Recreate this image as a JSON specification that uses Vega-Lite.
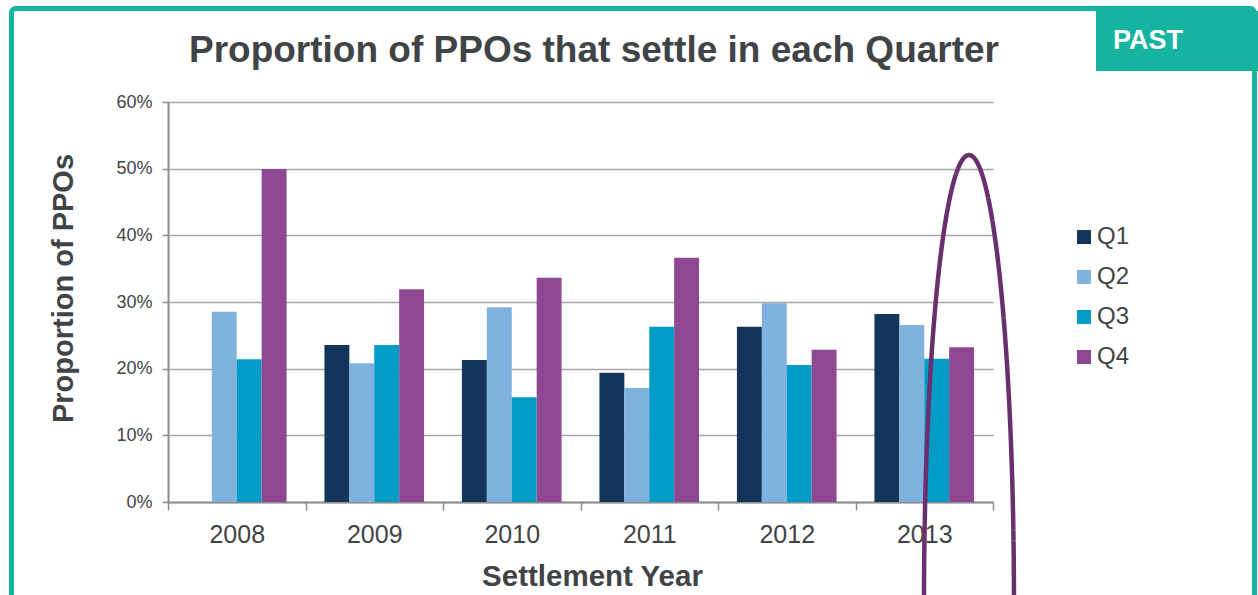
{
  "$schema": "https://vega.github.io/schema/vega-lite/v6.json",
  "autosize": {"type": "none"},
  "width": 825,
  "height": 400,
  "padding": {"left": 168, "top": 102, "right": 265, "bottom": 93},
  "background": "white",
  "config": {"view": {"stroke": null}, "font": "Liberation Sans", "legend": {"strokeWidth": 5}},
  "title": {
    "text": "Proportion of PPOs that settle in each Quarter",
    "fontSize": 37,
    "fontWeight": "bold",
    "color": "#404447",
    "anchor": "middle",
    "frame": "group",
    "dx": 13.5,
    "baseline": "alphabetic",
    "offset": -93.4
  },
  "data": {
    "values": [
      {"Year": "2008", "Quarter": "Q2", "Proportion": 0.2855},
      {"Year": "2008", "Quarter": "Q3", "Proportion": 0.214},
      {"Year": "2008", "Quarter": "Q4", "Proportion": 0.4995},
      {"Year": "2009", "Quarter": "Q1", "Proportion": 0.2355},
      {"Year": "2009", "Quarter": "Q2", "Proportion": 0.208},
      {"Year": "2009", "Quarter": "Q3", "Proportion": 0.2355},
      {"Year": "2009", "Quarter": "Q4", "Proportion": 0.319},
      {"Year": "2010", "Quarter": "Q1", "Proportion": 0.213},
      {"Year": "2010", "Quarter": "Q2", "Proportion": 0.292},
      {"Year": "2010", "Quarter": "Q3", "Proportion": 0.157},
      {"Year": "2010", "Quarter": "Q4", "Proportion": 0.3365},
      {"Year": "2011", "Quarter": "Q1", "Proportion": 0.194},
      {"Year": "2011", "Quarter": "Q2", "Proportion": 0.171},
      {"Year": "2011", "Quarter": "Q3", "Proportion": 0.263},
      {"Year": "2011", "Quarter": "Q4", "Proportion": 0.3665},
      {"Year": "2012", "Quarter": "Q1", "Proportion": 0.263},
      {"Year": "2012", "Quarter": "Q2", "Proportion": 0.298},
      {"Year": "2012", "Quarter": "Q3", "Proportion": 0.2055},
      {"Year": "2012", "Quarter": "Q4", "Proportion": 0.2285},
      {"Year": "2013", "Quarter": "Q1", "Proportion": 0.282},
      {"Year": "2013", "Quarter": "Q2", "Proportion": 0.2655},
      {"Year": "2013", "Quarter": "Q3", "Proportion": 0.215},
      {"Year": "2013", "Quarter": "Q4", "Proportion": 0.232}
    ]
  },
  "layer": [
    {
      "mark": {"type": "bar"},
      "encoding": {
        "x": {
          "field": "Year",
          "type": "nominal",
          "title": "Settlement Year",
          "scale": {"paddingInner": 0, "paddingOuter": 0},
          "axis": {
            "labelAngle": 0,
            "domainColor": "#8C8C8C",
            "domainWidth": 2,
            "tickColor": "#8C8C8C",
            "tickWidth": 1.5,
            "tickSize": 8,
            "tickBand": "extent",
            "labelFontSize": 25,
            "labelColor": "#404447",
            "labelPadding": 12,
            "titleFontSize": 29.5,
            "titleFontWeight": "bold",
            "titleColor": "#404447",
            "titleBaseline": "alphabetic",
            "titleAnchor": "middle",
            "titleX": 424,
            "titleY": 83,
            "grid": false
          }
        },
        "xOffset": {
          "field": "Quarter",
          "type": "nominal",
          "scale": {"domain": ["Q1", "Q2", "Q3", "Q4"], "paddingInner": 0, "paddingOuter": 0.76}
        },
        "y": {
          "field": "Proportion",
          "type": "quantitative",
          "title": "Proportion of PPOs",
          "scale": {"domain": [0, 0.6], "nice": false},
          "axis": {
            "values": [0, 0.1, 0.2, 0.3, 0.4, 0.5, 0.6],
            "format": ".0%",
            "domainColor": "#8C8C8C",
            "domainWidth": 2,
            "tickColor": "#8C8C8C",
            "tickWidth": 1.5,
            "tickSize": 6,
            "labelFontSize": 18,
            "labelColor": "#404447",
            "labelPadding": 10,
            "grid": true,
            "gridColor": "#A6A6A6",
            "gridWidth": 1.5,
            "titleFontSize": 29,
            "titleFontWeight": "bold",
            "titleColor": "#404447",
            "titleAngle": -90,
            "titleBaseline": "alphabetic",
            "titleAlign": "center",
            "titleX": -96,
            "titleY": 186
          }
        },
        "color": {
          "field": "Quarter",
          "type": "nominal",
          "scale": {"domain": ["Q1", "Q2", "Q3", "Q4"], "range": ["#14355A", "#7FB2DF", "#009CC8", "#8E4891"]},
          "legend": {
            "title": null,
            "orient": "none",
            "legendX": 904,
            "legendY": 123,
            "padding": 0,
            "symbolType": "square",
            "symbolSize": 196,
            "symbolStrokeWidth": 0,
            "labelFontSize": 24,
            "labelColor": "#404447",
            "labelOffset": 1,
            "rowPadding": 16
          }
        }
      }
    },
    {
      "data": {"values": [{}]},
      "mark": {
        "type": "point",
        "shape": "M0.0994,-1C0.1546,-1 0.1994,-0.5523 0.1994,0C0.1994,0.5523 0.1546,1 0.0994,1C0.0442,1 -0.0006,0.5523 -0.0006,0C-0.0006,-0.5523 0.0442,-1 0.0994,-1Z",
        "size": 810000,
        "filled": false,
        "strokeWidth": 4.5,
        "opacity": 1
      },
      "encoding": {
        "x": {"datum": "2013", "type": "nominal"},
        "y": {"datum": -0.1545, "type": "quantitative"},
        "stroke": {
          "datum": "PAST",
          "type": "nominal",
          "scale": {"range": ["#6A2F6E"]},
          "legend": {
            "title": "PAST",
            "titleOrient": "left",
            "titleAnchor": "start",
            "titlePadding": 120,
            "titleFontSize": 27,
            "titleFontWeight": "bold",
            "titleColor": "white",
            "titleLimit": 400,
            "orient": "none",
            "legendX": 928,
            "legendY": -91,
            "fillColor": "#14B4A0",
            "padding": 17,
            "symbolSize": 0,
            "symbolOpacity": 0,
            "symbolStrokeWidth": 0,
            "labelOffset": 0,
            "labelExpr": "''"
          }
        },
        "strokeDash": {
          "datum": "frame",
          "type": "nominal",
          "scale": {"range": [[1, 0]]},
          "legend": {
            "title": null,
            "orient": "none",
            "legendX": -156.5,
            "legendY": -93.5,
            "strokeColor": "#14B4A0",
            "cornerRadius": 4,
            "padding": 616.5,
            "symbolSize": 0,
            "symbolOpacity": 0,
            "symbolStrokeWidth": 0,
            "labelExpr": "''",
            "labelOffset": 0
          }
        }
      }
    }
  ]
}
